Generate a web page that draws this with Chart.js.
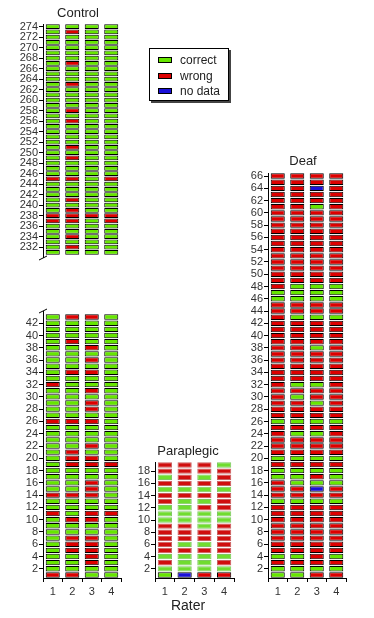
<!DOCTYPE html>
<html lang="en">
  <head>
    <meta charset="UTF-8" />
    <script src="https://cdn.jsdelivr.net/npm/chart.js"></script>
    <style>
      body { margin: 0; background: #fff; }
      #wrap { position: relative; width: 374px; height: 618px; font-family: "Liberation Sans", Arial, sans-serif; color: #222; }
      canvas { position: absolute; }
      .title { position: absolute; font-size: 13px; transform: translate(-50%, -50%); white-space: nowrap; }
      #legend { position: absolute; left: 149px; top: 48px; width: 78px; height: 51px; border: 1px solid #000; box-shadow: 2px 2px 0 #444; background: #fff; }
      .item { position: absolute; left: 30px; font-size: 12px; transform: translateY(-50%); }
      .sw { position: absolute; left: -22px; top: 50%; width: 12px; height: 4px; margin-top: -3px; border: 1px solid #000; }
    </style>
    <title>Rater agreement</title>
  </head>
  <body>
    <div id="wrap">
      <canvas id="cu" width="126" height="300" style="left:0;top:0"></canvas>
      <canvas id="cl" width="126" height="318" style="left:0;top:300px"></canvas>
      <canvas id="pp" width="130" height="188" style="left:120px;top:430px"></canvas>
      <canvas id="df" width="144" height="468" style="left:230px;top:150px"></canvas>

      <div class="title" style="left:78px;top:12px">Control</div>
      <div class="title" style="left:303px;top:160px">Deaf</div>
      <div class="title" style="left:188px;top:450px">Paraplegic</div>
      <div class="title" style="left:188px;top:605px;font-size:14px">Rater</div>

      <div id="legend">
        <div class="item" style="top:11px"><span class="sw" style="background:#66e600"></span>correct</div>
        <div class="item" style="top:27px"><span class="sw" style="background:#dd0000"></span>wrong</div>
        <div class="item" style="top:42px"><span class="sw" style="background:#1a10d8"></span>no data</div>
      </div>
    </div>

    <script>
      // G = correct, R = wrong, B = no data; one string per subject, raters 1-4
      const raters = ["1", "2", "3", "4"];

      // Control, subjects 1..43
      const controlLow = [
        "RRGG", "GGGG", "GGRG", "GGRG", "GRRG", "GRRG", "GRRG", "GGGG", "GGGG", "GRRG",
        "RGRR", "GGGG", "GGGG", "RRRG", "GGRG", "GGRG", "GGGG", "GGGG", "GRRR", "GRRG",
        "GRGG", "GGRG", "GGGG", "GGGG", "GGGG", "RRRG", "GGGG", "GGRG", "GGRG", "GGGG",
        "GGRG", "RGGG", "GGGG", "GRRG", "GGGG", "GGRG", "GGGG", "GGRG", "GRGG", "GGGG",
        "GGGG", "GGGG", "GRRG",
      ];
      // Control, subjects 231..274
      const controlHigh = [
        "GGGG", "GRGG", "GGGG", "GRGG", "GGGG", "GGGG", "RRGR", "RRRR", "GRGG", "GGGG",
        "GRGG", "GGGG", "GGGG", "GGGG", "RRGR", "GGGG", "GGGG", "GGGG", "GRGG", "GGGG",
        "GRGG", "GGGG", "GGGG", "GGGG", "GGGG", "GRGG", "GGGG", "GRGG", "GGGG", "GGGG",
        "GGGG", "GGGG", "GRGG", "GGGG", "GGGG", "GGGG", "GRGG", "GGGG", "GGGG", "GGGG",
        "GGGG", "GGGG", "GRGG", "GGGG",
      ];
      // Paraplegic, subjects 1..19
      const paraplegic = [
        "GBRR", "GGGG", "RGGR", "GGGG", "RRRR", "RGGR", "RRRR", "RRRR", "RRGR", "GGGG",
        "GGGG", "GGRR", "RGGR", "RRRR", "GGGG", "RRRR", "GRGR", "RRRR", "RRRG",
      ];
      // Deaf, subjects 1..66
      const deaf = [
        "GGRR", "GGGG", "RRRR", "GGRG", "RRRR", "RRRR", "RRRR", "RRRR", "RRRR", "RRRR",
        "RRRR", "RRRR", "GGGG", "RRRR", "RRBR", "RGGG", "GGRG", "GGGG", "RRRR", "GGGG",
        "RRRR", "RRRR", "RRRR", "RGGR", "RRRR", "GGGG", "RRRR", "RRRR", "RRGR", "RGRR",
        "RRRR", "RGGR", "RRRR", "RRRR", "RRRR", "RRRR", "RRRR", "RRGR", "RRRR", "RRRR",
        "RRRR", "RRRR", "RGGG", "RRRR", "RRRR", "GGGG", "GGGG", "RGGG", "RRRR", "RRRR",
        "RRRR", "RRRR", "RRRR", "RRRR", "RRRR", "RRRR", "RRRR", "RRRR", "RRRR", "RRRR",
        "RRGR", "RRRR", "RRRR", "RRBR", "RRRR", "RRRR",
      ];

      const controlHighTicks = [232, 234, 236, 238, 240, 242, 244, 246, 248, 250, 252, 254, 256, 258, 260, 262, 264, 266, 268, 270, 272, 274];
      const controlLowTicks = [2, 4, 6, 8, 10, 12, 14, 16, 18, 20, 22, 24, 26, 28, 30, 32, 34, 36, 38, 40, 42];
      const paraTicks = [2, 4, 6, 8, 10, 12, 14, 16, 18];
      const deafTicks = [2, 4, 6, 8, 10, 12, 14, 16, 18, 20, 22, 24, 26, 28, 30, 32, 34, 36, 38, 40, 42, 44, 46, 48, 50, 52, 54, 56, 58, 60, 62, 64, 66];

      const fill = { G: "#66e600", R: "#dd0000", B: "#1a10d8" };
      const fadedFill = { G: "#70dc30", R: "#d00e0e", B: "#2a18d0" };
      const fadedEdge = { G: "#7cc860", R: "#c86060", B: "#7060d0" };
      const font = { family: "'Liberation Sans', Arial, sans-serif", size: 11 };

      function rowsToDatasets(rows, first, faded) {
        return rows.map((row, i) => {
          const n = first + i;
          const soft = faded && i > 0;
          const codes = row.split("");
          return {
            data: raters.map(() => [n - 0.44, n + 0.44]),
            backgroundColor: codes.map((c) => (soft ? fadedFill[c] : fill[c])),
            borderColor: codes.map((c) => (soft ? fadedEdge[c] : "#000")),
            borderWidth: 1,
            borderSkipped: false,
            grouped: false,
            categoryPercentage: 1,
            barPercentage: 0.72,
          };
        });
      }

      // little "/" marks for the broken control axis
      const breakMark = (where) => ({
        id: "break" + where,
        afterDraw(chart) {
          const { ctx, chartArea } = chart;
          const x = chartArea.left;
          const y = where === "bottom" ? chartArea.bottom + 3 : chartArea.top - 3;
          ctx.save();
          ctx.strokeStyle = "#000";
          ctx.lineWidth = 1;
          ctx.beginPath();
          ctx.moveTo(x + 0.5, where === "bottom" ? chartArea.bottom : chartArea.top);
          ctx.lineTo(x + 0.5, y);
          ctx.moveTo(x - 4, y + 2);
          ctx.lineTo(x + 4, y - 2);
          ctx.stroke();
          ctx.restore();
        },
      });

      function panel(id, rows, first, min, max, tickList, box, opts = {}) {
        return new Chart(document.getElementById(id), {
          type: "bar",
          data: { labels: raters, datasets: rowsToDatasets(rows, first, opts.faded) },
          options: {
            responsive: false,
            animation: false,
            devicePixelRatio: 1,
            layout: { padding: { top: box.top, right: box.right, bottom: box.bottom, left: 0 } },
            plugins: { legend: { display: false }, tooltip: { enabled: false } },
            scales: {
              x: {
                display: opts.showX !== false,
                offset: true,
                grid: { drawOnChartArea: false, tickLength: 4, color: "#000", offset: true },
                border: { color: "#000" },
                ticks: { color: "#333", font, padding: 3, maxRotation: 0 },
                afterFit: (a) => {
                  a.height = 40;
                  a.paddingLeft = 0;
                  a.paddingRight = 0;
                },
              },
              y: {
                min,
                max,
                grid: { drawOnChartArea: false, tickLength: 4, color: "#000" },
                border: { color: "#000" },
                ticks: { color: "#333", font, padding: 1, autoSkip: false },
                afterBuildTicks: (a) => {
                  a.ticks = tickList.map((v) => ({ value: v }));
                },
                afterFit: (a) => {
                  a.width = box.left;
                  a.paddingTop = 0;
                  a.paddingBottom = 0;
                },
              },
            },
          },
          plugins: opts.plugins || [],
        });
      }

      panel("cu", controlHigh, 231, 230.5, 274.5, controlHighTicks, { left: 43, top: 24, right: 5, bottom: 5 }, { showX: false, plugins: [breakMark("bottom")] });
      panel("cl", controlLow, 1, 0.5, 43.5, controlLowTicks, { left: 43, top: 14, right: 5, bottom: 0 }, { plugins: [breakMark("top")] });
      panel("pp", paraplegic, 1, 0.5, 19.5, paraTicks, { left: 35, top: 32, right: 16, bottom: 0 }, { faded: true });
      panel("df", deaf, 1, 0.5, 66.5, deafTicks, { left: 38, top: 23, right: 28, bottom: 0 });
    </script>
  </body>
</html>
